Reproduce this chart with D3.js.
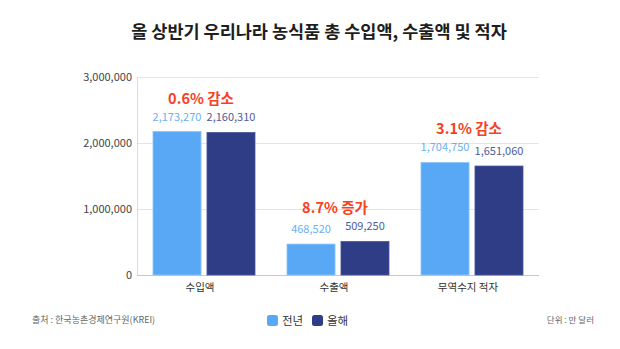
<!DOCTYPE html>
<html><head><meta charset="utf-8">
<script src="https://cdn.jsdelivr.net/npm/d3@7"></script>
<style>
body{margin:0;background:#fff;}
text{font-family:"Noto Sans CJK KR","Noto Sans",sans-serif;}
</style></head>
<body><svg id="c" width="620" height="349"></svg>
<script>
const categories = ["수입액","수출액","무역수지 적자"];
const series = ["전년","올해"];
const prevYear = [2173270, 468520, 1704750];
const thisYear = [2160310, 509250, 1651060];
const changeLabels = ["0.6% 감소","8.7% 증가","3.1% 감소"];
const yTicks = [0, 1000000, 2000000, 3000000];
const colors = ["#59a8f5","#2f3d86"];
const labelColors = ["#6cb0f0","#4d5c9c"];

const svg = d3.select("#c");
const m = {l:137, r:81, t:77, b:74};
const W = 620, H = 349;
const x = d3.scaleBand().domain(categories).range([m.l, W-m.r]).paddingInner(0).paddingOuter(0);
const y = d3.scaleLinear().domain([0,3000000]).range([H-m.b, m.t]);

svg.append("text").attr("x",319).attr("y",38).attr("text-anchor","middle")
  .attr("font-size",17.5).attr("font-weight","bold").attr("fill","#1e1e1e")
  .text("올 상반기 우리나라 농식품 총 수입액, 수출액 및 적자");

// grid
svg.append("g").selectAll("line").data(yTicks.filter(d=>d>0)).join("line")
  .attr("x1",m.l).attr("x2",W-m.r).attr("y1",d=>y(d)+0.5).attr("y2",d=>y(d)+0.5)
  .attr("stroke","#e4e4e4");
svg.append("line").attr("x1",m.l+0.5).attr("x2",m.l+0.5).attr("y1",m.t).attr("y2",H-m.b).attr("stroke","#dcdcdc");
svg.append("line").attr("x1",m.l).attr("x2",W-m.r).attr("y1",y(0)+0.5).attr("y2",y(0)+0.5).attr("stroke","#c8c8c8");

const fmt = d3.format(",");
svg.append("g").selectAll("text").data(yTicks).join("text")
  .attr("x",m.l-5).attr("y",d=>y(d)+4).attr("text-anchor","end")
  .attr("font-size",11).attr("fill","#444").text(d=>fmt(d));

const inner = d3.scaleBand().domain(series).range([16, x.bandwidth()-16]).paddingInner(0.11);
const data = categories.map((c,i)=>({c, vals:[prevYear[i], thisYear[i]], ch:changeLabels[i]}));

const g = svg.append("g").selectAll("g").data(data).join("g").attr("transform",d=>`translate(${x(d.c)},0)`);
g.selectAll("rect").data(d=>d.vals.map((v,j)=>({v,j}))).join("rect")
  .attr("x",d=>inner(series[d.j])).attr("width",inner.bandwidth())
  .attr("y",d=>y(d.v)).attr("height",d=>y(0)-y(d.v))
  .attr("fill",d=>colors[d.j]).attr("stroke",(d)=>d.j?"#4b58a0":"#8cc3f7").attr("stroke-width",0.8);
g.selectAll("text.v").data(d=>d.vals.map((v,j)=>({v,j}))).join("text").attr("class","v")
  .attr("x",d=>inner(series[d.j])+inner.bandwidth()/2)
  .attr("y",d=>y(d.v)-11)
  .attr("text-anchor","middle").attr("font-size",11).attr("fill",d=>labelColors[d.j])
  .text(d=>fmt(d.v));
g.append("text").attr("x",x.bandwidth()/2-3)
  .attr("y",d=>y(d3.max(d.vals))-28)
  .attr("text-anchor","middle").attr("font-size",14.5).attr("font-weight","bold").attr("fill","#f5421e")
  .text(d=>d.ch);
g.append("text").attr("x",x.bandwidth()/2-4).attr("y",y(0)+16).attr("text-anchor","middle")
  .attr("font-size",10.5).attr("fill","#333").text(d=>d.c);

// footer
svg.append("text").attr("x",32).attr("y",323).attr("font-size",9).attr("fill","#666").text("출처 : 한국농촌경제연구원(KREI)");
svg.append("text").attr("x",594).attr("y",323).attr("font-size",8.5).attr("fill","#666").attr("text-anchor","end").text("단위 : 만 달러");
const lx = [267, 312];
const lg = svg.append("g").selectAll("g").data(series).join("g").attr("transform",(d,i)=>`translate(${lx[i]},315)`);
lg.append("rect").attr("width",11).attr("height",11).attr("rx",2.5).attr("fill",(d,i)=>colors[i]);
lg.append("text").attr("x",15).attr("y",10).attr("font-size",11.5).attr("fill","#333").text(d=>d);
</script></body></html>
